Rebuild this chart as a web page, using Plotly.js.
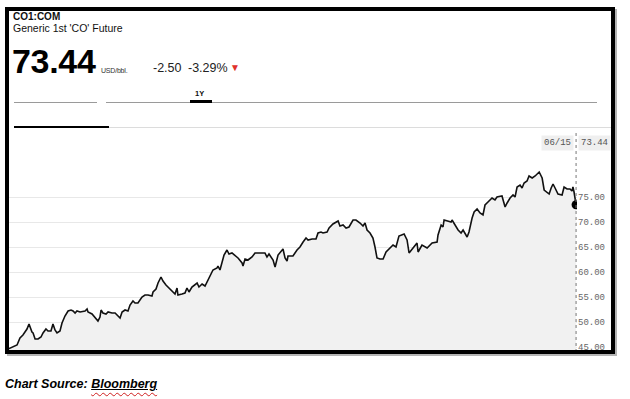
<!DOCTYPE html>
<html>
<head>
<meta charset="utf-8">
<script src="https://cdn.plot.ly/plotly-3.0.1.min.js"></script>
<style>
html,body{margin:0;padding:0;background:#fff;width:630px;height:399px;overflow:hidden;font-family:"Liberation Sans",Arial,Helvetica,sans-serif;}
#chart{position:absolute;left:0;top:0;width:630px;height:399px;}
.abs{position:absolute;white-space:nowrap;line-height:1;color:#111;}
.rule{position:absolute;}
#frame{position:absolute;left:5px;top:7px;width:610px;height:347px;box-sizing:border-box;border:4px solid #000;box-shadow:2px 2px 0 #b4b4b4;pointer-events:none;}
</style>
</head>
<body>
<div id="chart"></div>

<div class="abs" style="left:13px;top:12px;font-size:10px;font-weight:bold;">CO1:COM</div>
<div class="abs" style="left:13px;top:23px;font-size:10.5px;">Generic 1st 'CO' Future</div>
<div class="abs" id="bigPrice" style="left:12px;top:44px;font-size:34px;font-weight:bold;letter-spacing:-0.3px;color:#000;"></div>
<div class="abs" style="left:101px;top:67px;font-size:7px;letter-spacing:-0.2px;color:#333;">USD/bbl.</div>
<div class="abs" id="chg" style="left:153px;top:61.5px;font-size:12.5px;color:#222;"></div>
<div class="abs" id="pct" style="left:188px;top:61.5px;font-size:12.5px;color:#222;"></div>
<div class="abs" style="left:230px;top:63px;font-size:10px;color:#e0312b;">&#9660;</div>
<div class="abs" style="left:195px;top:90px;font-size:7.5px;font-weight:bold;">1Y</div>

<div class="rule" style="left:14px;top:102px;width:83px;height:1px;background:#9a9a9a;"></div>
<div class="rule" style="left:106px;top:102px;width:491px;height:1px;background:#9a9a9a;"></div>
<div class="rule" style="left:190px;top:100px;width:22px;height:3px;background:#000;"></div>
<div class="rule" style="left:14px;top:126px;width:95px;height:2px;background:#000;"></div>
<div class="rule" style="left:109px;top:127px;width:502px;height:1px;background:#dcdcdc;"></div>

<div id="frame"></div>

<div class="abs" style="left:5px;top:378px;font-size:12.5px;font-weight:bold;font-style:italic;color:#000;">Chart Source: <span style="text-decoration:underline solid #000;text-underline-offset:1px;"><span style="text-decoration:underline wavy #d02020;text-underline-offset:4px;text-decoration-thickness:1px;">Bloomberg</span></span></div>

<script>
// Day offsets from the start of the 1-year window (06/15 to 06/15)
var days = [0,2.6,5.8,7.7,9.6,12.2,13.5,15.4,16.1,17.4,19.3,21.2,22.5,24.4,25.7,27.6,28.9,30.2,31.5,33.4,34.7,36.6,38.6,40.5,41.8,43.1,44.3,46.3,49.5,50.8,51.4,54.0,55.9,57.8,59.1,59.8,61.0,63.0,64.3,66.8,68.8,70.7,72.0,73.3,75.2,77.1,78.4,80.3,81.6,83.5,86.1,88.0,90.0,92.5,93.2,95.1,96.4,98.3,99.6,101.5,102.8,105.4,107.3,108.6,109.2,111.8,113.7,115.0,116.3,118.2,120.2,121.5,122.7,124.7,126.6,128.5,130.4,131.7,134.3,134.9,136.2,137.5,138.8,140.7,142.0,143.9,145.9,147.8,150.4,151.0,152.3,154.2,156.8,158.7,161.9,165.1,166.4,167.7,170.3,171.6,173.5,176.7,178.0,179.3,179.9,183.1,185.7,187.6,189.6,191.5,192.8,195.4,197.9,199.2,201.1,202.4,205.0,206.3,208.8,210.8,212.1,213.3,215.3,217.2,219.1,221.7,223.6,226.2,228.1,229.4,230.7,232.6,234.5,235.8,237.1,239.0,241.0,242.9,244.8,247.4,249.3,251.2,254.5,256.4,257.7,260.3,262.8,263.5,266.0,269.3,272.5,275.7,276.3,278.3,279.5,280.2,282.7,284.7,285.3,287.2,289.2,291.1,292.4,295.0,296.2,298.2,299.5,301.4,303.3,305.2,306.5,308.4,311.0,312.9,314.2,317.4,319.4,320.7,322.6,324.5,325.8,327.1,329.0,330.3,331.6,333.5,334.8,336.8,338.7,341.3,343.2,344.5,346.4,347.7,349.0,350.2,351.5,353.4,356.0,357.3,359.2,361.1,362.4,363.0,363.7,365.0];

// Price, USD/bbl
var prices = [44.6,45.0,45.4,46.8,47.4,48.6,49.6,48.0,47.8,46.6,46.6,47.0,47.8,48.6,48.2,48.2,49.6,48.4,47.8,48.2,49.8,51.2,52.2,52.4,52.2,51.8,52.2,52.0,52.2,52.6,52.0,51.6,50.8,50.2,51.0,52.4,51.8,51.6,52.0,51.8,51.8,51.2,50.8,52.0,52.4,52.2,53.4,54.2,53.8,53.8,55.0,55.4,55.4,55.2,56.0,56.6,57.8,59.0,58.2,57.4,57.0,56.2,55.6,56.8,55.4,55.6,55.8,56.8,56.0,57.0,57.4,57.8,57.0,57.6,57.2,58.4,59.8,60.4,60.8,61.2,60.4,61.8,63.4,64.4,63.6,63.8,63.2,62.8,61.8,61.2,62.6,62.4,63.0,63.8,63.8,63.8,63.0,63.6,62.4,61.0,63.4,64.6,62.8,62.2,63.2,63.2,64.4,65.0,66.0,66.8,66.4,66.6,66.6,67.8,68.0,67.8,68.0,68.8,69.6,70.0,70.2,69.2,69.4,68.8,69.0,70.4,70.4,69.8,69.2,69.8,68.4,67.8,66.8,65.0,62.8,62.6,62.6,64.0,64.6,65.4,65.0,67.2,67.6,66.4,63.8,64.8,65.8,64.0,65.4,64.8,65.8,66.0,67.4,69.4,69.0,70.4,70.2,70.0,70.4,69.4,68.4,67.8,68.4,67.0,68.0,70.8,72.0,72.6,71.8,71.4,73.4,74.0,74.8,74.4,75.0,75.2,73.0,73.8,74.8,75.4,75.0,77.0,77.4,76.8,77.8,78.2,79.2,78.8,79.2,80.0,78.8,76.4,75.8,75.6,76.8,77.6,76.8,75.6,75.4,77.0,76.6,76.6,76.2,77.0,76.0,73.44];

var yTicks = [45, 50, 55, 60, 65, 70, 75];
var lastDateLabel = "06/15";
var netChange = "-2.50";
var pctChange = "-3.29%";

var lastDay = days[days.length - 1];
var lastVal = prices[prices.length - 1];

document.getElementById('bigPrice').textContent = lastVal.toFixed(2);
document.getElementById('chg').textContent = netChange;
document.getElementById('pct').textContent = pctChange;

var mono = '"Liberation Mono","DejaVu Sans Mono",monospace';

var traces = [
  {
    x: days, y: prices, type: 'scatter', mode: 'lines',
    line: {color: '#111', width: 1.6},
    fill: 'tozeroy', fillcolor: '#f1f1f1',
    hoverinfo: 'skip'
  },
  {
    x: [lastDay], y: [lastVal], type: 'scatter', mode: 'markers',
    marker: {color: '#000', size: 9},
    hoverinfo: 'skip'
  }
];

var layout = {
  width: 630, height: 399,
  margin: {l: 8, r: 53, t: 130, b: 47, pad: 0},
  paper_bgcolor: 'rgba(0,0,0,0)',
  plot_bgcolor: 'rgba(0,0,0,0)',
  showlegend: false,
  xaxis: {
    range: [0, 365.6], showgrid: false, zeroline: false,
    showticklabels: false, showline: false, ticks: '', fixedrange: true
  },
  yaxis: {
    side: 'right', range: [44, 88.4],
    tickvals: yTicks,
    ticktext: yTicks.map(function (v) { return v.toFixed(2); }),
    gridcolor: '#e8e8e8', gridwidth: 1,
    zeroline: false, showline: false, ticks: '',
    tickfont: {family: mono, size: 9, color: '#666'},
    fixedrange: true
  },
  shapes: [{
    type: 'line', xref: 'x', yref: 'paper',
    x0: lastDay, x1: lastDay, y0: 0, y1: 0.99,
    line: {color: '#777', width: 1, dash: 'dot'}
  }],
  annotations: [
    {
      x: lastDay, xref: 'x', y: 0.94, yref: 'paper',
      xanchor: 'right', yanchor: 'middle', xshift: -2,
      text: lastDateLabel, showarrow: false,
      font: {family: mono, size: 9, color: '#555'},
      bgcolor: '#efefef', borderpad: 2
    },
    {
      x: lastDay, xref: 'x', y: 0.94, yref: 'paper',
      xanchor: 'left', yanchor: 'middle', xshift: 2,
      text: lastVal.toFixed(2), showarrow: false,
      font: {family: mono, size: 9, color: '#555'},
      bgcolor: '#efefef', borderpad: 2
    }
  ]
};

Plotly.newPlot('chart', traces, layout, {displayModeBar: false, staticPlot: true});
</script>
</body>
</html>
